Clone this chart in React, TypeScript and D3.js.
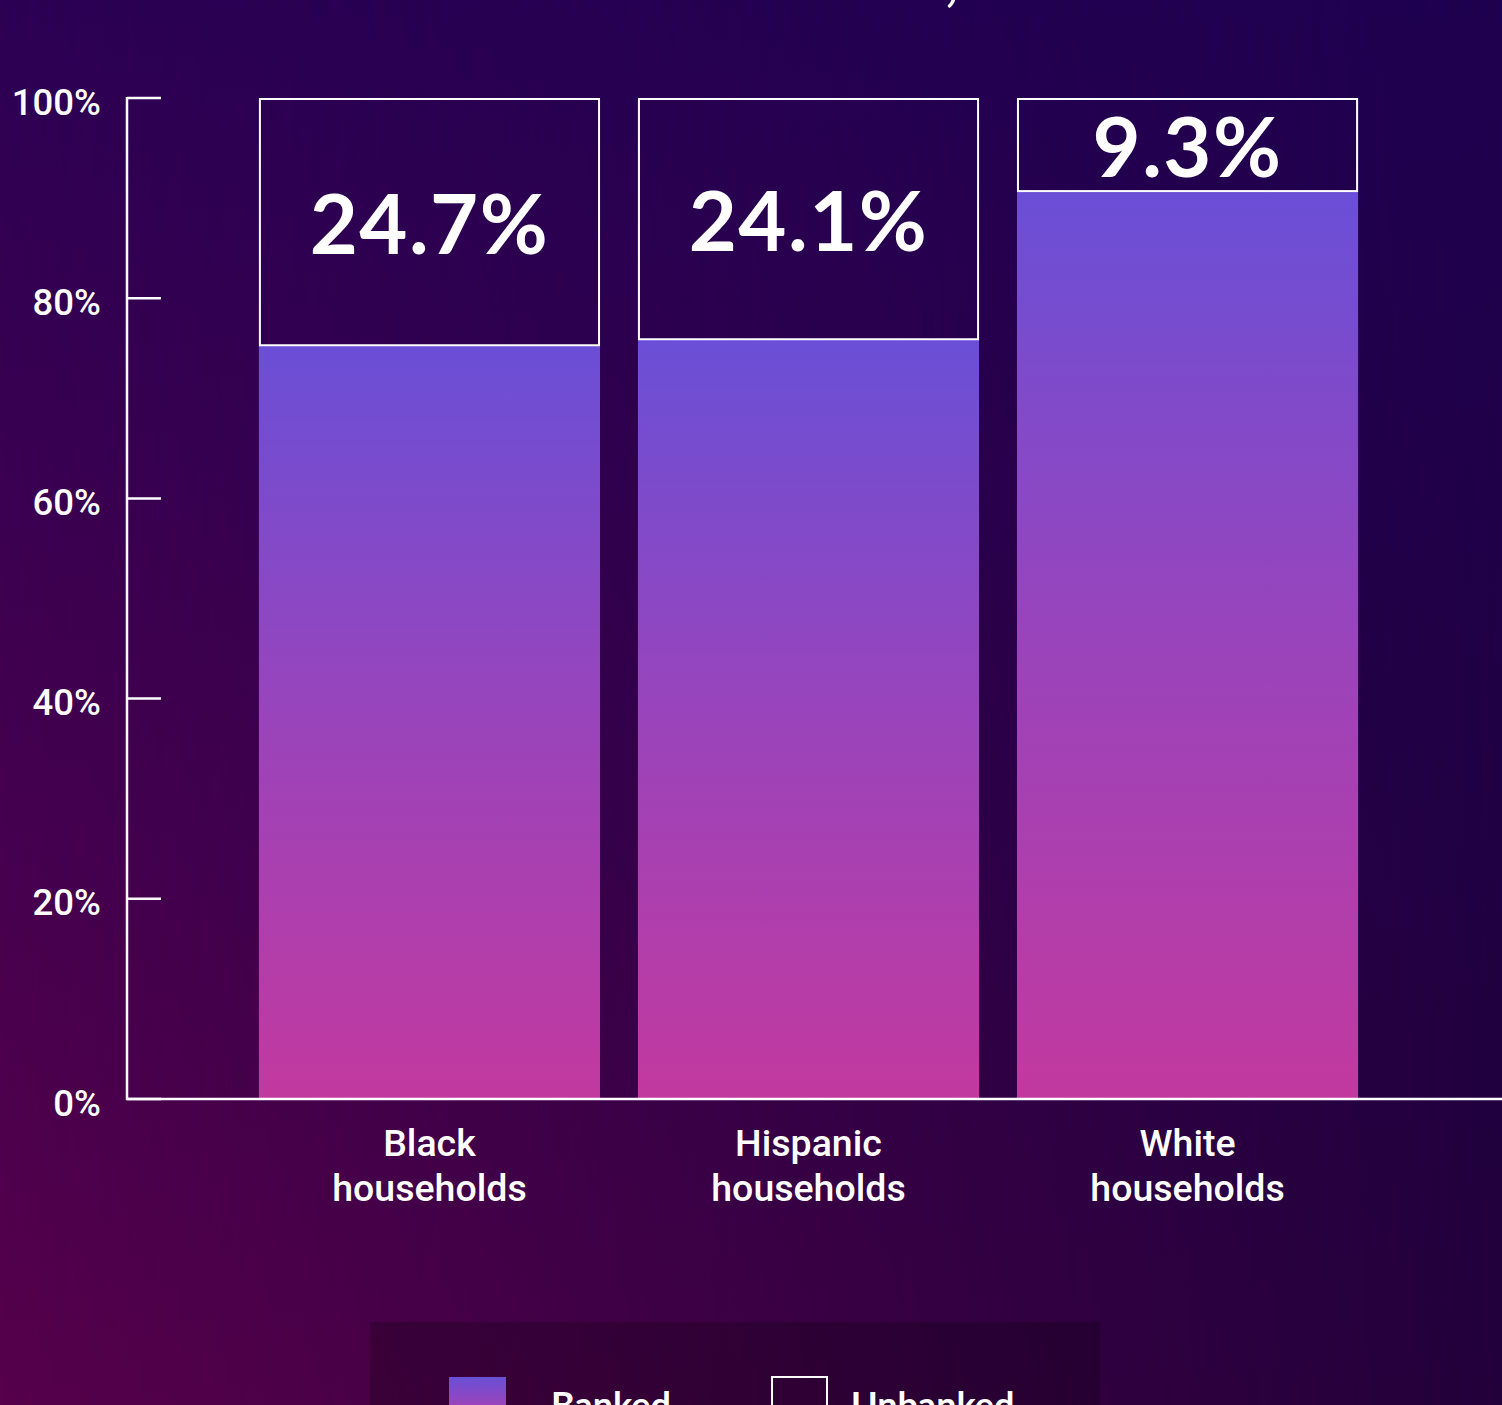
import React from "react";
import * as d3 from "d3";

const categories = ["Black households", "Hispanic households", "White households"];
const categoryLines = [["Black", "households"], ["Hispanic", "households"], ["White", "households"]];
const banked = [75.3, 75.9, 90.7];
const unbanked = [24.7, 24.1, 9.3];
const yTicks = [0, 20, 40, 60, 80, 100];
const legendItems = ["Banked", "Unbanked"];

const W = 1502;
const H = 1405;

export default function App() {
  const y = d3.scaleLinear().domain([0, 100]).range([1099, 98]);
  const x = d3
    .scaleBand<string>()
    .domain(categories)
    .range([127, 1490])
    .paddingInner(0.1)
    .paddingOuter(0.348);
  const bw = x.bandwidth();
  const valueFont = "Lato, 'Open Sans', sans-serif";

  return (
    <svg
      width={W}
      height={H}
      style={{ position: "absolute", left: 0, top: 0, display: "block" }}
    >
      <defs>
        <linearGradient id="bgL" x1="0" y1="0" x2="0" y2="1">
          <stop offset="0" stopColor="#2c0054" />
          <stop offset="1" stopColor="#57004b" />
        </linearGradient>
        <linearGradient id="bgR" x1="0" y1="0" x2="0" y2="1">
          <stop offset="0" stopColor="#1e0050" />
          <stop offset="1" stopColor="#22003a" />
        </linearGradient>
        <linearGradient id="maskGrad" x1="0" y1="0" x2="1" y2="0">
          <stop offset="0" stopColor="#fff" stopOpacity="0" />
          <stop offset="1" stopColor="#fff" stopOpacity="1" />
        </linearGradient>
        <mask id="hMask" maskUnits="userSpaceOnUse" x="0" y="0" width={W} height={H}>
          <rect x={0} y={0} width={W} height={H} fill="url(#maskGrad)" />
        </mask>
        <linearGradient id="barGrad" x1="0" y1="0" x2="0" y2="1">
          <stop offset="0" stopColor="#6a4fd6" />
          <stop offset="0.5" stopColor="#9a44bb" />
          <stop offset="1" stopColor="#c2399f" />
        </linearGradient>
      </defs>

      <rect x={0} y={0} width={W} height={H} fill="url(#bgL)" />
      <rect x={0} y={0} width={W} height={H} fill="url(#bgR)" mask="url(#hMask)" />

      {/* title (cut off at top) */}
      <text
        x={958}
        y={0}
        textAnchor="end"
        fill="#fff"
        fontFamily={valueFont}
        fontWeight={700}
        fontSize={56}
      >
        Banked vs. unbanked households,
      </text>

      {/* bars */}
      {categories.map((c, i) => {
        const x0 = x(c) as number;
        const top = y(banked[i]);
        const boxTop = y(100);
        const cx = x0 + bw / 2;
        const boxMid = (boxTop + top) / 2;
        return (
          <g key={c}>
            <rect x={x0} y={top} width={bw} height={y(0) - top} fill="url(#barGrad)" />
            <rect
              x={x0 + 1}
              y={boxTop + 1}
              width={bw - 2}
              height={top - boxTop - 1}
              fill="none"
              stroke="#fff"
              strokeWidth={2}
            />
            <text
              x={cx}
              y={boxMid + 32}
              textAnchor="middle"
              fill="#fff"
              fontFamily={valueFont}
              fontWeight={700}
              fontSize={83}
              letterSpacing={1.5}
            >
              {unbanked[i].toFixed(1)}%
            </text>
            {categoryLines[i].map((ln, j) => (
              <text
                key={j}
                x={cx}
                y={1156 + j * 45}
                textAnchor="middle"
                fill="#fff"
                fontFamily="Roboto, sans-serif"
                fontWeight={500}
                fontSize={37.5}
              >
                {ln}
              </text>
            ))}
          </g>
        );
      })}

      {/* y axis */}
      <line x1={127} x2={127} y1={y(100) - 1} y2={y(0) + 1} stroke="#fff" strokeWidth={2.5} />
      {yTicks.map((t) => (
        <g key={t}>
          <line x1={127} x2={161} y1={y(t)} y2={y(t)} stroke="#fff" strokeWidth={2.5} />
          <text
            x={101}
            y={y(t) + 16.5}
            textAnchor="end"
            fill="#fff"
            fontFamily="Roboto, sans-serif"
            fontWeight={500}
            fontSize={36.5}
          >
            {t}%
          </text>
        </g>
      ))}
      <line x1={126} x2={W} y1={y(0)} y2={y(0)} stroke="#fff" strokeWidth={2.5} />

      {/* legend */}
      <rect x={370} y={1322} width={730} height={140} fill="#000" fillOpacity={0.2} />
      <rect x={449} y={1377} width={57} height={57} fill="url(#barGrad)" />
      <text x={551} y={1418} fill="#fff" fontFamily={valueFont} fontWeight={700} fontSize={36}>
        {legendItems[0]}
      </text>
      <rect x={772} y={1377} width={55} height={55} fill="none" stroke="#fff" strokeWidth={2} />
      <text x={851} y={1418} fill="#fff" fontFamily={valueFont} fontWeight={700} fontSize={36}>
        {legendItems[1]}
      </text>
    </svg>
  );
}
